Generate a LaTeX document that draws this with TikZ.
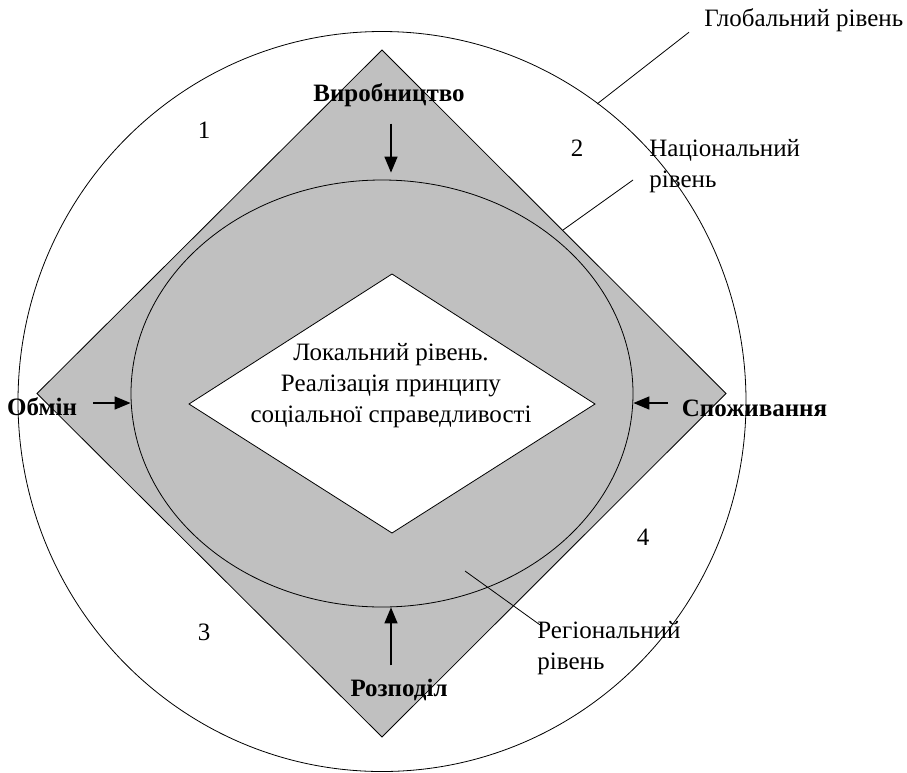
\documentclass[tikz,border=0pt]{standalone}
\usepackage{fontspec}
\setmainfont{Liberation Serif}
\usetikzlibrary{arrows.meta,shapes.geometric}
\definecolor{fillgray}{HTML}{C0C0C0}
\tikzset{pointer/.style = {-{Triangle[length=16pt,width=13pt]}, line width=1.5pt},
         lbl/.style = {font=\fontsize{25}{31}\selectfont, inner sep=0pt},
         bold/.style = {inner sep=0pt, font=\fontsize{25}{31}\selectfont\bfseries}}

\begin{document}
\begin{tikzpicture}[x=1pt,y=-1pt,line width=0.8pt]
\useasboundingbox (0,0) rectangle (907,772);
\draw (382,401.5) ellipse [x radius=364, y radius=370];
\draw [fill=fillgray] (382,50) -- (726,393.5) -- (382,737) -- (37,393.5) -- cycle;
\node [ellipse, draw, minimum width=502pt, minimum height=427pt, inner sep=0pt] (nat) at (382,393.5) {};
\draw [fill=white] (392,274) -- (595,404) -- (392,533) -- (189,404) -- cycle;
\node [lbl, align=center] (loc) at (391,386) {Локальний рівень.\\Реалізація принципу\\соціальної справедливості};

\node [bold] (prod) at (389,95.5) {Виробництво};
\node [bold] (rozp) at (399,689.5) {Розподіл};
\node [bold] (obm) at (42,407) {Обмін};
\node [bold] (spoz) at (754.5,408) {Споживання};

\node [lbl] (s1) at (204,130) {1};
\node [lbl] (s2) at (577,148) {2};
\node [lbl] (s3) at (204,632) {3};
\node [lbl] (s4) at (643,537) {4};

\node [lbl, anchor=base west] (glab) at (704,26.5) {Глобальний рівень};
\node [lbl, align=left, anchor=west] (nlab) at (649,166) {Національний\\рівень};
\node [lbl, align=left, anchor=west] (rlab) at (537,648) {Регіональний\\рівень};

\draw [pointer] ([xshift=2pt,yshift=-16pt]prod.south) -- ([xshift=9pt,yshift=7pt]nat.north);
\draw [pointer] ([xshift=-8pt,yshift=13pt]rozp.north) -- ([xshift=9pt]nat.south);
\draw [pointer] ([xshift=16pt,yshift=4pt]obm.east) -- ([yshift=-9.5pt]nat.west);
\draw [pointer] ([xshift=-14pt,yshift=5pt]spoz.west) -- ([yshift=-9.5pt]nat.east);

\coordinate (gpt) at (597,104);
\coordinate (npt) at (563,230);
\coordinate (rpt) at (465,571);
\draw ([xshift=-15pt]glab.south west) -- (gpt);
\draw ([xshift=-16pt,yshift=-14pt]nlab.west) -- (npt);
\draw ([xshift=3pt,yshift=-4pt]rlab.north west) -- (rpt);
\end{tikzpicture}
\end{document}
